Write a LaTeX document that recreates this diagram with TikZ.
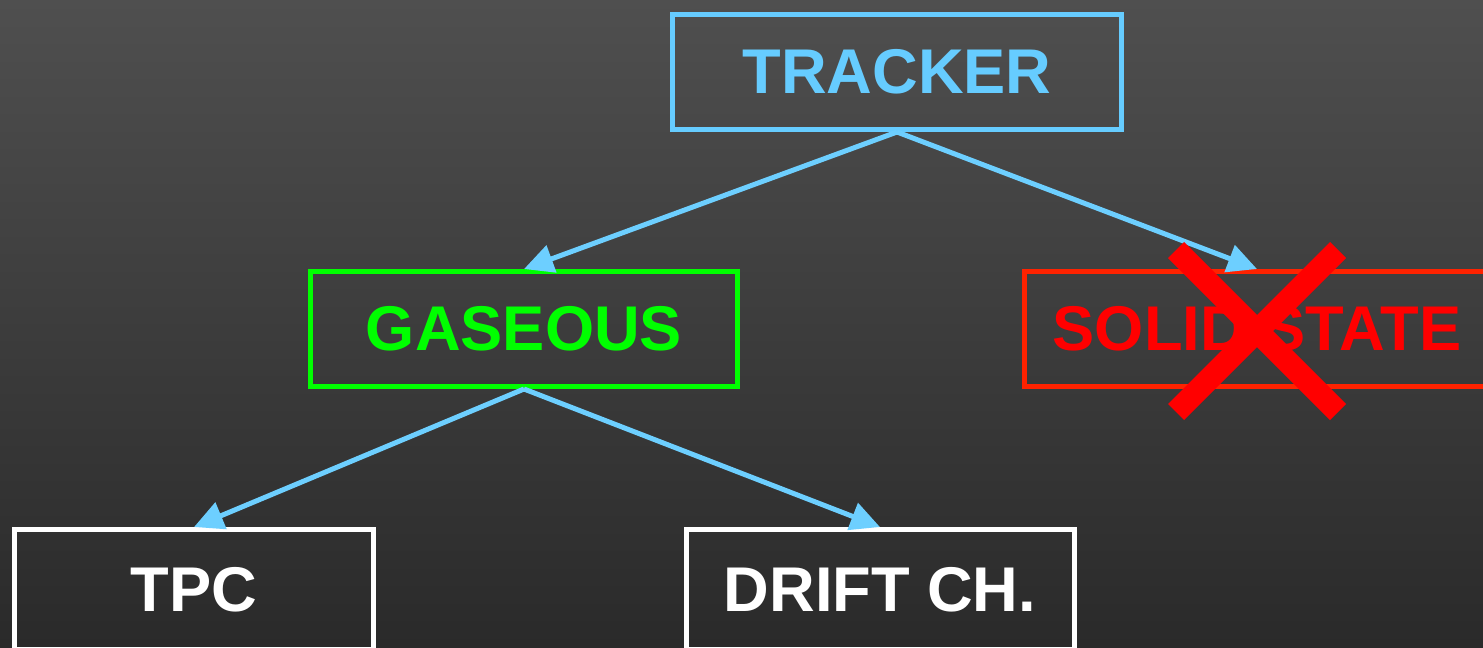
\documentclass[tikz,border=0pt]{standalone}
\usepackage{fontspec}
\setmainfont{Liberation Sans}
\usetikzlibrary{arrows.meta}
\definecolor{bgtop}{HTML}{4F4F4F}
\definecolor{bgbot}{HTML}{2A2A2A}
\definecolor{trk}{HTML}{66CCFF}
\definecolor{arr}{HTML}{6DCFFF}
\definecolor{gas}{HTML}{00FF00}
\definecolor{solidb}{HTML}{FF2200}
\definecolor{solidt}{HTML}{FF0000}
\tikzset{
  boxnode/.style={draw, line width=3.75pt, inner sep=0pt, minimum height=86.25pt,
    font=\bfseries\fontsize{47.4}{50}\selectfont, align=center},
  conn/.style={draw=arr, line width=3.75pt, -{Triangle[length=22pt,width=21pt]}},
  crossline/.style={draw=solidt, line width=17pt}
}
\begin{document}
\begin{tikzpicture}[x=0.75pt,y=-0.75pt]
\useasboundingbox (0,0) rectangle (1483,647);
\clip (0,0) rectangle (1483,647);
\shade[top color=bgtop, bottom color=bgbot] (0,0) rectangle (1483,647);

\node[boxnode, draw=trk, text=trk, minimum width=336.75pt] (tracker) at (897,72) {TRACKER};
\node[boxnode, draw=gas, text=gas, minimum width=320.25pt] (gaseous) at (524,329) {GASEOUS};
\node[boxnode, draw=solidb, text=solidt, minimum width=348.75pt] (solid) at (1257,329) {SOLID STATE};
\node[boxnode, draw=white, text=white, minimum width=269.25pt, minimum height=90pt] (tpc) at (194,589.5) {TPC};
\node[boxnode, draw=white, text=white, minimum width=291pt, minimum height=90pt] (drift) at (880,589.5) {DRIFT CH.};

\draw[conn] (tracker.south) -- (gaseous.north);
\draw[conn] (tracker.south) -- (solid.north);
\draw[conn] (gaseous.south) -- (tpc.north);
\draw[conn] (gaseous.south) -- (drift.north);

\coordinate (x1) at (1176,250);
\coordinate (x2) at (1338,412);
\coordinate (x3) at (1338,250);
\coordinate (x4) at (1176,412);
\draw[crossline] (x1) -- (x2);
\draw[crossline] (x3) -- (x4);
\end{tikzpicture}
\end{document}
